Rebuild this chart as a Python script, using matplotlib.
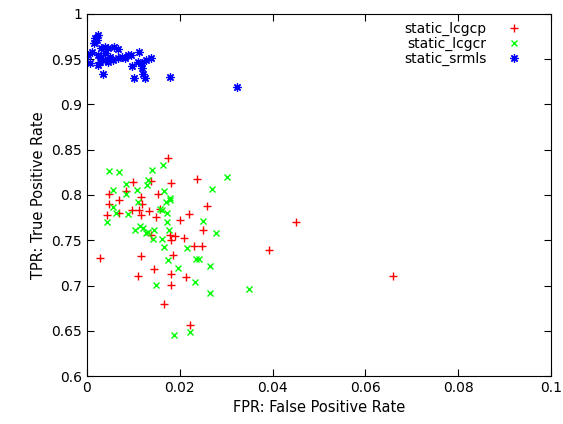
import matplotlib
matplotlib.use("Agg")
from matplotlib import pyplot as plt
from matplotlib.ticker import FuncFormatter

# static_lcgcp (red +)
lcgcp_fpr = [0.0175, 0.0100, 0.0181, 0.0238, 0.0137, 0.0085, 0.0047, 0.0069, 0.0047,
             0.0116, 0.0119, 0.0152, 0.0043, 0.0097, 0.0113, 0.0134, 0.0157, 0.0258,
             0.0220, 0.0116, 0.0148, 0.0201, 0.0251, 0.0068, 0.0179, 0.0190, 0.0208,
             0.0231, 0.0247, 0.0181, 0.0139, 0.0028, 0.0116, 0.0185, 0.0145, 0.0181,
             0.0110, 0.0214, 0.0181, 0.0165, 0.0221, 0.0450, 0.0393, 0.0659]
lcgcp_tpr = [0.841, 0.814, 0.813, 0.818, 0.816, 0.804, 0.801, 0.794, 0.790,
             0.798, 0.790, 0.801, 0.778, 0.783, 0.783, 0.782, 0.785, 0.788,
             0.779, 0.778, 0.776, 0.772, 0.761, 0.780, 0.756, 0.755, 0.752,
             0.744, 0.744, 0.750, 0.756, 0.730, 0.733, 0.734, 0.718, 0.713,
             0.710, 0.709, 0.701, 0.680, 0.656, 0.770, 0.739, 0.711]

# static_lcgcr (green x)
lcgcr_fpr = [0.0047, 0.0070, 0.0141, 0.0164, 0.0302, 0.0269, 0.0055, 0.0085, 0.0085,
             0.0108, 0.0132, 0.0129, 0.0167, 0.0179, 0.0179, 0.0170, 0.0110, 0.0057,
             0.0062, 0.0088, 0.0157, 0.0161, 0.0173, 0.0043, 0.0172, 0.0251, 0.0279,
             0.0103, 0.0114, 0.0121, 0.0132, 0.0145, 0.0127, 0.0143, 0.0162, 0.0166,
             0.0216, 0.0177, 0.0175, 0.0197, 0.0236, 0.0242, 0.0266, 0.0149, 0.0233,
             0.0266, 0.0188, 0.0223, 0.0350]
lcgcr_tpr = [0.827, 0.825, 0.828, 0.833, 0.820, 0.807, 0.806, 0.812, 0.801,
             0.806, 0.817, 0.811, 0.804, 0.797, 0.794, 0.792, 0.792, 0.787,
             0.780, 0.779, 0.785, 0.783, 0.780, 0.770, 0.770, 0.771, 0.758,
             0.761, 0.766, 0.764, 0.759, 0.761, 0.758, 0.751, 0.751, 0.743,
             0.741, 0.761, 0.728, 0.719, 0.729, 0.729, 0.722, 0.701, 0.704,
             0.692, 0.645, 0.649, 0.696]

# static_srmls (blue *)
srmls_fpr = [0.0024, 0.0021, 0.0016, 0.0003, 0.0006, 0.0024, 0.0035, 0.0031, 0.0039,
             0.0046, 0.0059, 0.0067, 0.0024, 0.0031, 0.0039, 0.0050, 0.0057, 0.0067,
             0.0075, 0.0082, 0.0089, 0.0095, 0.0112, 0.0139, 0.0098, 0.0110, 0.0119,
             0.0128, 0.0118, 0.0121, 0.0102, 0.0125, 0.0179, 0.0323, 0.0039, 0.0028,
             0.0046, 0.0017, 0.0010]
srmls_tpr = [0.977, 0.971, 0.968, 0.955, 0.946, 0.944, 0.934, 0.962, 0.964,
             0.962, 0.963, 0.961, 0.955, 0.951, 0.949, 0.953, 0.949, 0.951,
             0.953, 0.951, 0.955, 0.955, 0.958, 0.951, 0.943, 0.947, 0.946,
             0.949, 0.940, 0.934, 0.929, 0.929, 0.930, 0.919, 0.957, 0.947,
             0.947, 0.973, 0.958]

fig = plt.figure(figsize=(5.63, 4.24), dpi=100)
ax = fig.add_axes([0.1545, 0.1132, 0.8242, 0.8538])

ax.plot(lcgcp_fpr, lcgcp_tpr, linestyle='none', marker='+', color='#ff0000',
        markersize=6, markeredgewidth=1, label='static_lcgcp')
ax.plot(lcgcr_fpr, lcgcr_tpr, linestyle='none', marker='x', color='#00ff00',
        markersize=5, markeredgewidth=1, label='static_lcgcr')
ax.plot(srmls_fpr, srmls_tpr, linestyle='none', marker=(8, 2, 0), color='#0000ff',
        markersize=6, markeredgewidth=0.9, label='static_srmls')

ax.set_xlim(0, 0.1)
ax.set_ylim(0.6, 1)
ax.set_xticks([0, 0.02, 0.04, 0.06, 0.08, 0.1])
ax.set_yticks([0.6, 0.65, 0.7, 0.75, 0.8, 0.85, 0.9, 0.95, 1])
fmt = FuncFormatter(lambda v, p: ('%g' % round(v, 4)))
ax.xaxis.set_major_formatter(fmt)
ax.yaxis.set_major_formatter(fmt)
ax.tick_params(direction='in', top=True, right=True, length=5, labelsize=10)

ax.set_xlabel('FPR: False Positive Rate', fontsize=10.5)
ax.set_ylabel('TPR: True Positive Rate', fontsize=10.5)

ax.legend(loc='upper right', bbox_to_anchor=(0.96, 1.0), frameon=False,
          markerfirst=False, fontsize=10, handlelength=1.5, handletextpad=1.2,
          labelspacing=0.05, borderaxespad=0.2)

plt.savefig('out.png')
